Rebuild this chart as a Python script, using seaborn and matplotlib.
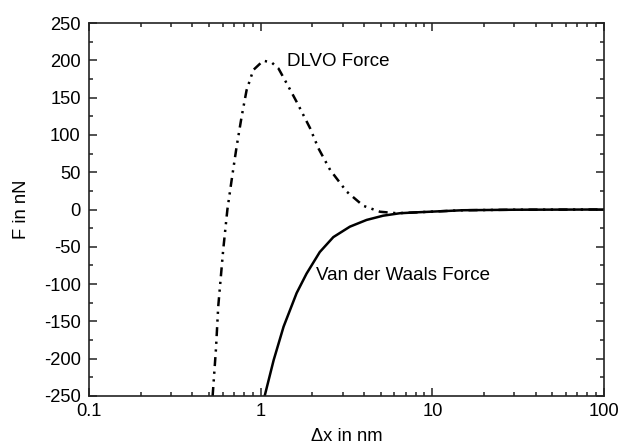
import numpy as np
import pandas as pd
import matplotlib
matplotlib.use("Agg")
import matplotlib.pyplot as plt
from matplotlib.ticker import LogLocator, MultipleLocator, FixedLocator, NullFormatter
import seaborn as sns

# ---- data ----
dlvo_x = [0.525, 0.549, 0.566, 0.605, 0.64, 0.678, 0.724, 0.774, 0.828, 0.906,
          1.035, 1.16, 1.27, 1.45, 1.64, 1.94, 2.17, 2.54, 3.17, 3.96,
          4.95, 6.2, 8.1, 15, 30, 100]
dlvo_y = [-250, -187, -130, -54, 0, 40, 84, 124, 160, 187,
          199.5, 197, 189, 165, 142, 109, 82, 53, 24, 5,
          -3, -5, -3.8, -1, -0.3, 0]

vdw_x = [1.055, 1.19, 1.36, 1.62, 1.85, 2.21, 2.65, 3.31, 4.14, 5.17, 6.47, 8.1, 15, 30, 100]
vdw_y = [-250, -202, -157, -112, -86, -57, -37, -23, -14, -8.3, -5, -3.8, -1, -0.3, 0]

x_ticks = [0.1, 1, 10, 100]
x_ticklabels = ["0.1", "1", "10", "100"]
y_ticks = [-250, -200, -150, -100, -50, 0, 50, 100, 150, 200, 250]

label_dlvo = "DLVO Force"
label_vdw = "Van der Waals Force"
xlabel = "\u0394x in nm"
ylabel = "F in nN"

# ---- style ----
sns.set_style("ticks")
plt.rcParams['font.family'] = ['Liberation Sans', 'DejaVu Sans']
plt.rcParams['axes.linewidth'] = 1.2
plt.rcParams['axes.unicode_minus'] = False
plt.rcParams['text.color'] = 'black'
plt.rcParams['axes.labelcolor'] = 'black'

fig = plt.figure(figsize=(6.22, 4.47), dpi=100)
ax = fig.add_axes([89 / 622, 1 - 396 / 447, (604 - 89) / 622, (396 - 23) / 447])

df_d = pd.DataFrame({"x": dlvo_x, "y": dlvo_y})
df_v = pd.DataFrame({"x": vdw_x, "y": vdw_y})

sns.lineplot(data=df_v, x="x", y="y", ax=ax, color="black", linewidth=1.8,
             sort=False, estimator=None)
sns.lineplot(data=df_d, x="x", y="y", ax=ax, color="black", linewidth=1.8,
             sort=False, estimator=None)
ax.lines[1].set_dashes([3.6, 2.2, 0.9, 2.2, 0.9, 2.2])

ax.set_xscale("log")
ax.set_xlim(0.1, 100)
ax.set_ylim(-250, 250)

ax.xaxis.set_major_locator(FixedLocator(x_ticks))
ax.set_xticklabels(x_ticklabels)
ax.xaxis.set_minor_locator(LogLocator(base=10, subs=np.arange(2, 10), numticks=20))
ax.xaxis.set_minor_formatter(NullFormatter())
ax.yaxis.set_major_locator(FixedLocator(y_ticks))
ax.yaxis.set_minor_locator(MultipleLocator(25))

ax.tick_params(which="both", direction="in", top=True, right=True, width=1.1,
               labelsize=13.2, colors="#222222", labelcolor="black")
ax.tick_params(which="major", length=5.5, pad=6)
ax.tick_params(which="minor", length=3)
ax.tick_params(axis="x", which="major", pad=5)
for s in ax.spines.values():
    s.set_color("#222222")

ax.set_xlabel(xlabel, fontsize=13.2, labelpad=6)
ax.set_ylabel(ylabel, fontsize=13.2, labelpad=10)

ax.text(1.42, 199, label_dlvo, fontsize=13.5, va="center", ha="left")
ax.text(2.1, -88, label_vdw, fontsize=13.5, va="center", ha="left")

fig.savefig("out.png", dpi=100, facecolor="white")
